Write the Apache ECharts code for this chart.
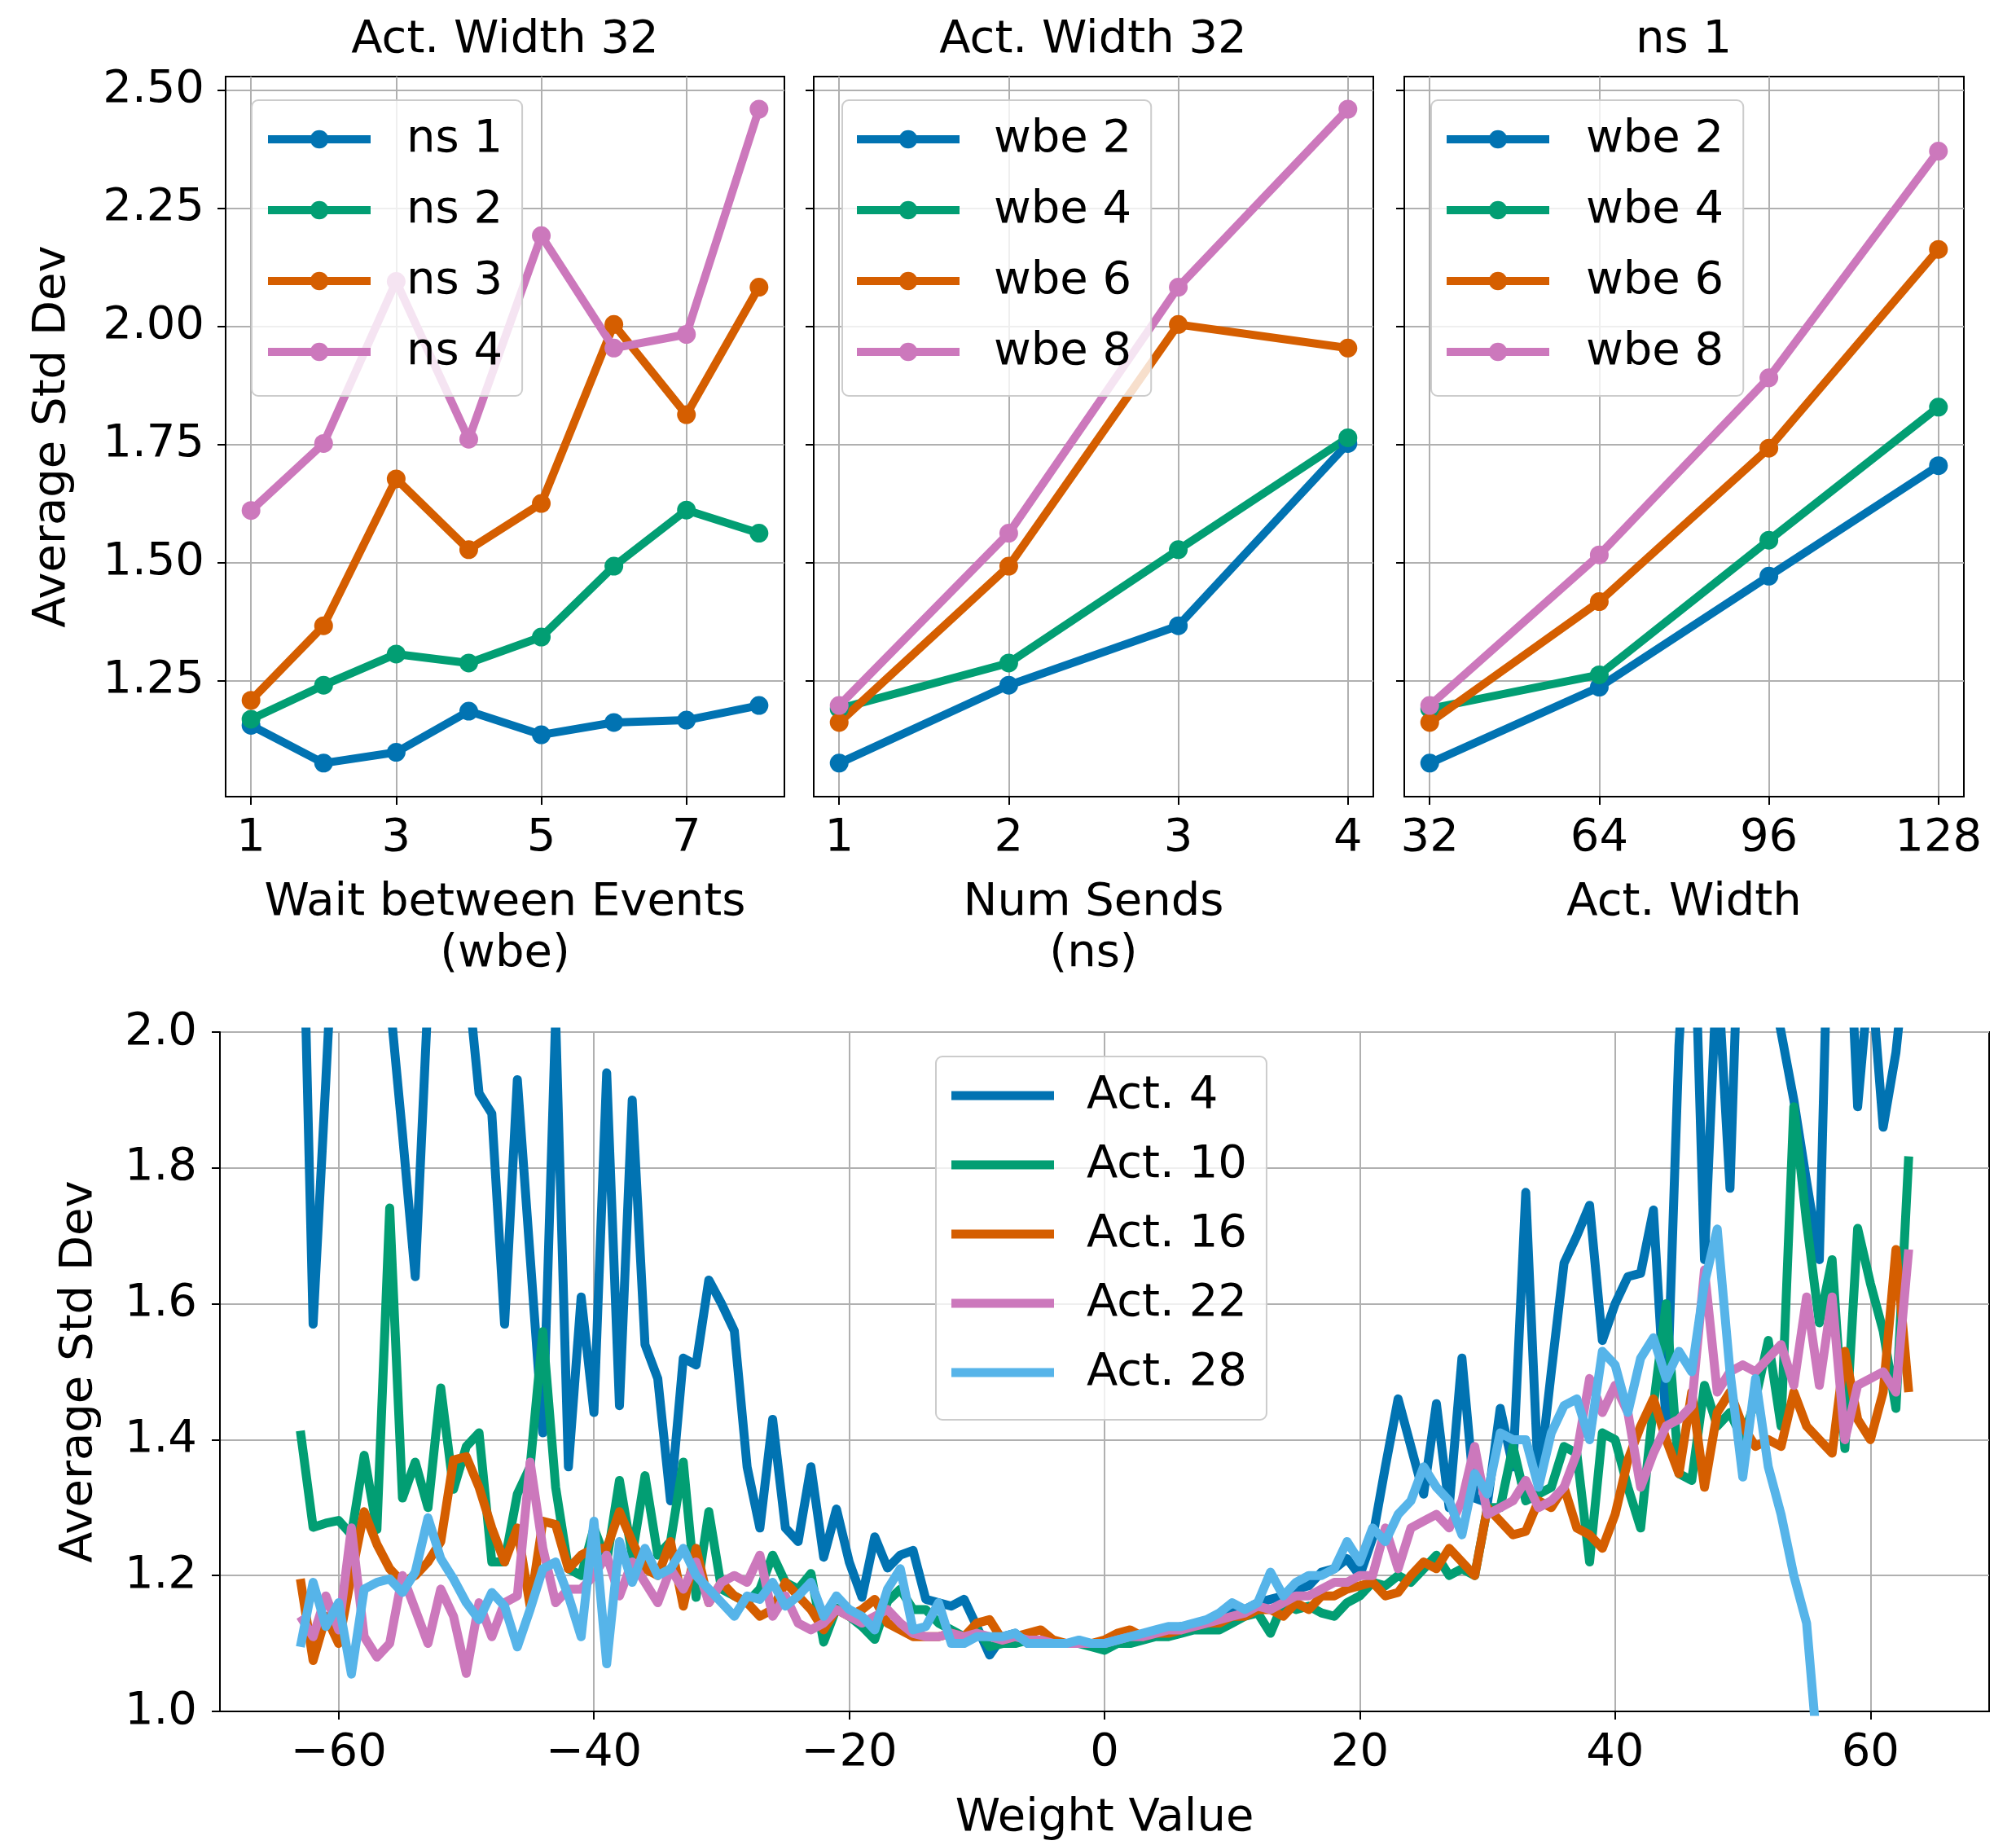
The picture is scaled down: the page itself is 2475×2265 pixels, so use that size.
<!DOCTYPE html>
<html><head><meta charset="utf-8">
<script src="https://cdn.jsdelivr.net/npm/echarts@6/dist/echarts.min.js"></script>
<style>html,body{margin:0;padding:0;background:#fff}#c{width:2475px;height:2265px}</style>
</head><body><div id="c"></div>
<script>
// ---------- DATA ----------
// Panel 1: Act. Width 32, x = wait between events (wbe)
const wbeValues = [1, 2, 3, 4, 5, 6, 7, 8];
const wbeTicks = [1, 3, 5, 7];
const p1_ns1 = [1.155, 1.075, 1.098, 1.185, 1.135, 1.161, 1.166, 1.197];
const p1_ns2 = [1.168, 1.240, 1.306, 1.287, 1.342, 1.492, 1.611, 1.562];
const p1_ns3 = [1.208, 1.366, 1.677, 1.527, 1.625, 2.004, 1.813, 2.083];
const p1_ns4 = [1.610, 1.752, 2.095, 1.761, 2.192, 1.954, 1.983, 2.460];
// Panel 2: Act. Width 32, x = num sends (ns)
const nsValues = [1, 2, 3, 4];
const nsTicks = [1, 2, 3, 4];
const p2_wbe2 = [1.075, 1.240, 1.366, 1.752];
const p2_wbe4 = [1.190, 1.287, 1.527, 1.764];
const p2_wbe6 = [1.161, 1.492, 2.004, 1.954];
const p2_wbe8 = [1.197, 1.562, 2.083, 2.460];
// Panel 3: ns 1, x = activation width
const widthValues = [32, 64, 96, 128];
const widthTicks = [32, 64, 96, 128];
const p3_wbe2 = [1.075, 1.236, 1.471, 1.705];
const p3_wbe4 = [1.190, 1.262, 1.547, 1.829];
const p3_wbe6 = [1.161, 1.417, 1.742, 2.163];
const p3_wbe8 = [1.197, 1.516, 1.891, 2.371];
const topYTicks = [1.25, 1.50, 1.75, 2.00, 2.25, 2.50];

// Bottom panel: weight value vs average std dev
const weights = [-63,-62,-61,-60,-59,-58,-57,-56,-55,-54,-53,-52,-51,-50,-49,-48,-47,-46,-45,-44,
 -43,-42,-41,-40,-39,-38,-37,-36,-35,-34,-33,-32,-31,-30,-29,-28,-27,-26,-25,-24,
 -23,-22,-21,-20,-19,-18,-17,-16,-15,-14,-13,-12,-11,-10,-9,-8,-7,-6,-5,-4,
 -3,-2,-1,0,1,2,3,4,5,6,7,8,9,10,11,12,13,14,15,16,
 17,18,19,20,21,22,23,24,25,26,27,28,29,30,31,32,33,34,35,36,
 37,38,39,40,41,42,43,44,45,46,47,48,49,50,51,52,53,54,55,56,
 57,58,59,60,61,62,63];
const weightTicks = [-60, -40, -20, 0, 20, 40, 60];
const act4 = [2.35,1.57,1.93,2.3,2.4,2.2,2.5,2.05,1.85,1.64,
 2.05,2.3,2.2,2.1,1.91,1.88,1.57,1.93,1.67,1.41,
 2.02,1.36,1.61,1.44,1.94,1.45,1.90,1.54,1.49,1.31,
 1.52,1.51,1.635,1.60,1.56,1.36,1.27,1.43,1.27,1.25,
 1.36,1.227,1.298,1.22,1.168,1.257,1.211,1.23,1.237,1.165,
 1.16,1.155,1.165,1.125,1.083,1.11,1.115,1.10,1.105,1.10,
 1.10,1.10,1.10,1.095,1.10,1.105,1.11,1.115,1.12,1.125,
 1.125,1.13,1.14,1.145,1.15,1.16,1.165,1.17,1.18,1.185,
 1.205,1.21,1.225,1.20,1.255,1.36,1.46,1.39,1.32,1.453,
 1.30,1.52,1.314,1.307,1.446,1.36,1.764,1.334,1.50,1.66,
 1.70,1.745,1.546,1.60,1.64,1.645,1.738,1.42,1.98,2.3,
 1.665,2.1,1.77,2.35,2.4,2.1,2.0,1.90,1.78,1.665,
 2.4,2.3,1.89,2.1,1.86,1.97,2.15];
const act10 = [1.413,1.271,1.277,1.281,1.26,1.377,1.268,1.741,1.314,1.367,
 1.30,1.476,1.327,1.39,1.41,1.22,1.22,1.32,1.36,1.559,
 1.33,1.21,1.20,1.27,1.22,1.34,1.23,1.347,1.23,1.25,
 1.367,1.168,1.294,1.18,1.17,1.16,1.18,1.23,1.19,1.18,
 1.203,1.102,1.152,1.14,1.125,1.106,1.162,1.18,1.15,1.15,
 1.13,1.12,1.11,1.12,1.095,1.10,1.10,1.105,1.10,1.10,
 1.10,1.10,1.095,1.09,1.10,1.10,1.105,1.11,1.11,1.115,
 1.12,1.12,1.12,1.13,1.14,1.145,1.115,1.16,1.15,1.155,
 1.145,1.14,1.16,1.17,1.19,1.185,1.20,1.19,1.21,1.23,
 1.20,1.21,1.20,1.30,1.30,1.39,1.31,1.32,1.33,1.39,
 1.38,1.22,1.41,1.40,1.33,1.27,1.45,1.60,1.35,1.34,
 1.48,1.42,1.44,1.40,1.46,1.546,1.42,1.89,1.72,1.572,
 1.665,1.387,1.711,1.63,1.56,1.446,1.817];
const act16 = [1.195,1.075,1.14,1.10,1.20,1.294,1.246,1.21,1.19,1.20,
 1.22,1.25,1.37,1.375,1.33,1.27,1.22,1.27,1.155,1.28,
 1.275,1.21,1.23,1.24,1.24,1.294,1.25,1.21,1.20,1.25,
 1.155,1.24,1.16,1.19,1.17,1.16,1.14,1.15,1.19,1.17,
 1.15,1.12,1.15,1.14,1.15,1.165,1.13,1.12,1.11,1.11,
 1.11,1.115,1.11,1.13,1.135,1.105,1.11,1.115,1.12,1.105,
 1.10,1.10,1.10,1.105,1.115,1.12,1.11,1.115,1.115,1.12,
 1.125,1.13,1.13,1.14,1.14,1.15,1.15,1.14,1.16,1.15,
 1.17,1.17,1.18,1.185,1.19,1.17,1.175,1.20,1.22,1.21,
 1.24,1.22,1.20,1.30,1.28,1.26,1.265,1.31,1.30,1.33,
 1.27,1.26,1.24,1.29,1.37,1.42,1.46,1.40,1.35,1.47,
 1.33,1.44,1.47,1.42,1.39,1.40,1.39,1.47,1.42,1.40,
 1.38,1.53,1.43,1.40,1.47,1.68,1.47];
const act22 = [1.14,1.11,1.17,1.12,1.27,1.11,1.08,1.10,1.20,1.15,
 1.10,1.18,1.14,1.056,1.16,1.11,1.16,1.17,1.367,1.24,
 1.16,1.18,1.18,1.20,1.23,1.17,1.22,1.19,1.16,1.21,
 1.18,1.22,1.16,1.19,1.20,1.19,1.23,1.14,1.17,1.13,
 1.12,1.13,1.15,1.14,1.13,1.14,1.15,1.13,1.115,1.11,
 1.11,1.115,1.11,1.115,1.11,1.105,1.11,1.105,1.105,1.10,
 1.10,1.10,1.10,1.10,1.105,1.11,1.11,1.115,1.12,1.12,
 1.125,1.13,1.135,1.14,1.145,1.155,1.15,1.16,1.17,1.17,
 1.18,1.19,1.19,1.20,1.20,1.27,1.21,1.27,1.28,1.29,
 1.27,1.31,1.39,1.29,1.30,1.31,1.34,1.30,1.31,1.33,
 1.38,1.49,1.44,1.48,1.44,1.33,1.38,1.42,1.43,1.45,
 1.65,1.47,1.50,1.51,1.50,1.52,1.54,1.48,1.61,1.48,
 1.61,1.40,1.48,1.49,1.50,1.47,1.68];
const act28 = [1.095,1.19,1.125,1.16,1.055,1.18,1.19,1.195,1.175,1.205,
 1.285,1.225,1.195,1.16,1.135,1.175,1.155,1.095,1.15,1.21,
 1.22,1.17,1.11,1.28,1.07,1.25,1.19,1.24,1.20,1.21,
 1.24,1.20,1.18,1.16,1.14,1.17,1.165,1.19,1.155,1.17,
 1.19,1.14,1.17,1.15,1.14,1.12,1.18,1.21,1.12,1.125,
 1.16,1.10,1.10,1.11,1.11,1.11,1.115,1.10,1.10,1.10,
 1.10,1.105,1.10,1.10,1.105,1.11,1.115,1.12,1.125,1.125,
 1.13,1.135,1.145,1.16,1.15,1.16,1.205,1.17,1.19,1.20,
 1.20,1.21,1.25,1.22,1.27,1.25,1.29,1.31,1.36,1.33,
 1.31,1.26,1.35,1.32,1.41,1.40,1.40,1.33,1.41,1.45,
 1.46,1.40,1.53,1.51,1.44,1.52,1.55,1.49,1.53,1.50,
 1.63,1.71,1.50,1.345,1.49,1.36,1.29,1.20,1.13,0.91,
 0.82,0.75,0.70,0.66,0.63,0.60,0.58];

// ---------- STYLE ----------
const FONT = 'DejaVu Sans';
const COL = {blue:'#0173b2', green:'#029e73', orange:'#d55e00', pink:'#cc78bc', sky:'#56b4e9'};
const FS = 56;
const pts = (xs, ys) => xs.map((x, i) => [x, ys[i]]);
const minus = v => (v < 0 ? '\u2212' + Math.abs(v) : String(v));

function xAxisCfg(gi, min, max, ticks, name, nameGap) {
  return {
    type:'value', gridIndex:gi, min:min, max:max,
    axisLine:{show:true, onZero:false, lineStyle:{color:'#000', width:2}},
    axisTick:{show:true, inside:false, length:10, lineStyle:{color:'#000', width:2}, customValues:ticks},
    axisLabel:{show:true, color:'#000', fontSize:FS, fontFamily:FONT, margin:23, customValues:ticks, formatter:minus},
    splitLine:{show:true, lineStyle:{color:'#b0b0b0', width:2}},
    name:name, nameLocation:'middle', nameGap:nameGap,
    nameTextStyle:{color:'#000', fontSize:FS, fontFamily:FONT, lineHeight:63}
  };
}
function yAxisCfg(gi, showLabels, name) {
  return {
    type:'value', gridIndex:gi, min:1.004, max:2.529,
    axisLine:{show:true, onZero:false, lineStyle:{color:'#000', width:2}},
    axisTick:{show:true, inside:false, length:10, lineStyle:{color:'#000', width:2}, customValues:topYTicks},
    axisLabel:{show:showLabels, color:'#000', fontSize:FS, fontFamily:FONT, margin:26, customValues:topYTicks,
      formatter:v => v.toFixed(2)},
    splitLine:{show:true, lineStyle:{color:'#b0b0b0', width:2}},
    name:name, nameLocation:'middle', nameGap:185,
    nameTextStyle:{color:'#000', fontSize:FS, fontFamily:FONT}
  };
}
function topSeries(name, xs, ys, color, gi) {
  return {
    type:'line', name:name, xAxisIndex:gi, yAxisIndex:gi, data:pts(xs, ys),
    symbol:'circle', symbolSize:23, showSymbol:true,
    lineStyle:{width:10, color:color}, itemStyle:{color:color, borderWidth:0},
    emphasis:{disabled:true}, animation:false
  };
}
function botSeries(name, ys, color) {
  return {
    type:'line', name:name, xAxisIndex:3, yAxisIndex:3, data:pts(weights, ys),
    symbol:'none', showSymbol:false, clip:true,
    lineStyle:{width:11, color:color, join:'round'}, itemStyle:{color:color},
    emphasis:{disabled:true}, animation:false
  };
}
function legendCfg(left, top, names, pad, textPad, icon, iH, gap) {
  const l = {
    orient:'vertical', left:left, top:top, data:names, selectedMode:false,
    itemWidth:126, itemHeight:iH, itemGap:gap, padding:pad,
    backgroundColor:'rgba(255,255,255,0.8)', borderColor:'#cccccc', borderWidth:2, borderRadius:8,
    lineStyle:{width:10},
    textStyle:{fontSize:FS, color:'#000', fontFamily:FONT, lineHeight:56, padding:[0,0,0,textPad]}
  };
  if (icon) l.icon = icon;
  return l;
}
const gridBase = {show:true, borderColor:'#000', borderWidth:2, backgroundColor:'transparent', containLabel:false};

const option = {
  animation:false,
  backgroundColor:'#ffffff',
  textStyle:{fontFamily:FONT},
  grid:[
    Object.assign({left:277, top:94, width:686, height:884}, gridBase),
    Object.assign({left:999, top:94, width:687, height:884}, gridBase),
    Object.assign({left:1724, top:94, width:687, height:884}, gridBase),
    Object.assign({left:270, top:1267, width:2172, height:842}, gridBase)
  ],
  xAxis:[
    xAxisCfg(0, 0.65, 8.35, wbeTicks, 'Wait between Events\n(wbe)', 99),
    xAxisCfg(1, 0.85, 4.15, nsTicks, 'Num Sends\n(ns)', 99),
    xAxisCfg(2, 27.2, 132.8, widthTicks, 'Act. Width', 99),
    xAxisCfg(3, -69.3, 69.3, weightTicks, 'Weight Value', 100)
  ],
  yAxis:[
    yAxisCfg(0, true, 'Average Std Dev'),
    yAxisCfg(1, false, ''),
    yAxisCfg(2, false, ''),
    {
      type:'value', gridIndex:3, min:1.0, max:2.0, interval:0.2,
      axisLine:{show:true, onZero:false, lineStyle:{color:'#000', width:2}},
      axisTick:{show:true, inside:false, length:10, lineStyle:{color:'#000', width:2}},
      axisLabel:{show:true, color:'#000', fontSize:FS, fontFamily:FONT, margin:28, formatter:v => v.toFixed(1)},
      splitLine:{show:true, lineStyle:{color:'#b0b0b0', width:2}},
      name:'Average Std Dev', nameLocation:'middle', nameGap:145,
      nameTextStyle:{color:'#000', fontSize:FS, fontFamily:FONT}
    }
  ],
  legend:[
    legendCfg(309, 123, ['ns 1','ns 2','ns 3','ns 4'], [20,24,26,15], 39, null, 28, 31),
    legendCfg(1034, 123, ['wbe 2','wbe 4','wbe 6','wbe 8'], [20,24,26,13], 37, null, 28, 31),
    legendCfg(1757, 123, ['wbe 2','wbe 4','wbe 6','wbe 8'], [20,24,26,14], 40, null, 28, 31),
    legendCfg(1149, 1297, ['Act. 4','Act. 10','Act. 16','Act. 22','Act. 28'], [20,24,30,19], 35, 'rect', 11, 29)
  ],
  graphic:[
    {type:'text', x:620, y:49, style:{text:'Act. Width 32', fontSize:FS, fontFamily:FONT, fill:'#000', align:'center', verticalAlign:'middle'}},
    {type:'text', x:1342, y:49, style:{text:'Act. Width 32', fontSize:FS, fontFamily:FONT, fill:'#000', align:'center', verticalAlign:'middle'}},
    {type:'text', x:2067, y:49, style:{text:'ns 1', fontSize:FS, fontFamily:FONT, fill:'#000', align:'center', verticalAlign:'middle'}}
  ],
  series:[
    topSeries('ns 1', wbeValues, p1_ns1, COL.blue, 0),
    topSeries('ns 2', wbeValues, p1_ns2, COL.green, 0),
    topSeries('ns 3', wbeValues, p1_ns3, COL.orange, 0),
    topSeries('ns 4', wbeValues, p1_ns4, COL.pink, 0),
    topSeries('wbe 2', nsValues, p2_wbe2, COL.blue, 1),
    topSeries('wbe 4', nsValues, p2_wbe4, COL.green, 1),
    topSeries('wbe 6', nsValues, p2_wbe6, COL.orange, 1),
    topSeries('wbe 8', nsValues, p2_wbe8, COL.pink, 1),
    topSeries('wbe 2', widthValues, p3_wbe2, COL.blue, 2),
    topSeries('wbe 4', widthValues, p3_wbe4, COL.green, 2),
    topSeries('wbe 6', widthValues, p3_wbe6, COL.orange, 2),
    topSeries('wbe 8', widthValues, p3_wbe8, COL.pink, 2),
    botSeries('Act. 4', act4, COL.blue),
    botSeries('Act. 10', act10, COL.green),
    botSeries('Act. 16', act16, COL.orange),
    botSeries('Act. 22', act22, COL.pink),
    botSeries('Act. 28', act28, COL.sky)
  ]
};
const chart = echarts.init(document.getElementById('c'), null, {renderer:'canvas', width:2475, height:2265});
chart.setOption(option);
</script></body></html>
